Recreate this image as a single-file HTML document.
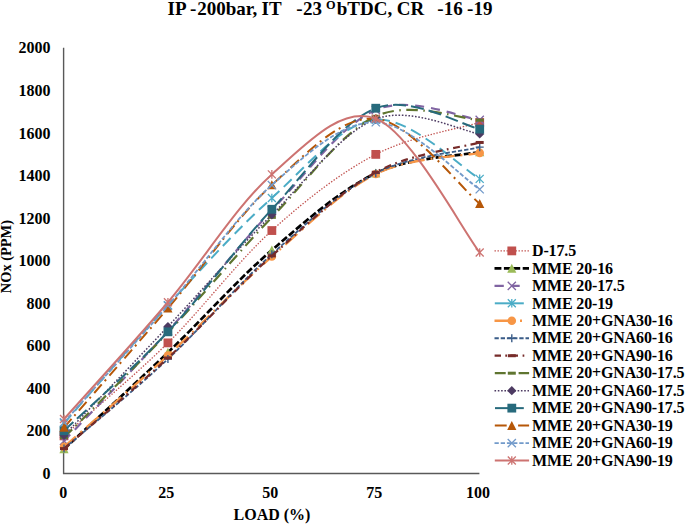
<!DOCTYPE html>
<html><head><meta charset="utf-8"><style>
html,body{margin:0;padding:0;background:#fff;}
svg{display:block;}
text{font-family:"Liberation Serif",serif;font-weight:bold;fill:#000;}
</style></head><body>
<svg width="685" height="524" viewBox="0 0 685 524">
<rect width="685" height="524" fill="#fff"/>
<g font-size="19">
<text x="167.6" y="15">IP</text>
<text x="189.9" y="15">-</text>
<text x="197.3" y="15">200bar,</text>
<text x="261.5" y="15">IT</text>
<text x="296.2" y="15">-</text>
<text x="302.9" y="15">23</text>
<text x="336.8" y="15">bTDC,</text>
<text x="396.7" y="15">CR</text>
<text x="437.15" y="15">-</text>
<text x="443.8" y="15">16</text>
<text x="467.1" y="15">-</text>
<text x="473.5" y="15">19</text>
<text x="326" y="8.8" font-size="12.3">O</text>
</g>
<path d="M63.6,47.8 V473.5 H479.4" stroke="#595959" stroke-width="1.4" fill="none"/>
<g font-size="16" text-anchor="end">
<text x="50.5" y="478.90">0</text>
<text x="50.5" y="436.35">200</text>
<text x="50.5" y="393.80">400</text>
<text x="50.5" y="351.25">600</text>
<text x="50.5" y="308.70">800</text>
<text x="50.5" y="266.15">1000</text>
<text x="50.5" y="223.60">1200</text>
<text x="50.5" y="181.05">1400</text>
<text x="50.5" y="138.50">1600</text>
<text x="50.5" y="95.95">1800</text>
<text x="50.5" y="53.40">2000</text>
</g>
<g font-size="16" text-anchor="middle">
<text x="63.20" y="498">0</text>
<text x="166.20" y="498">25</text>
<text x="270.20" y="498">50</text>
<text x="374.20" y="498">75</text>
<text x="477.90" y="498">100</text>
</g>
<text x="272" y="519.7" font-size="16" text-anchor="middle">LOAD (%)</text>
<text transform="translate(10.8,256.6) rotate(-90)" font-size="14.4" text-anchor="middle">NOx (PPM)</text>
<path d="M64.00,435.86 C81.32,420.36 133.28,377.10 167.93,342.88 C202.57,308.67 237.21,261.97 271.85,230.55 C306.49,199.14 341.13,172.40 375.77,154.39 C410.42,136.37 462.38,127.79 479.70,122.48" stroke="#C0504D" stroke-width="1.3" fill="none" stroke-dasharray="1.4 1.6"/>
<rect x="59.60" y="431.46" width="8.80" height="8.80" fill="#C0504D"/>
<rect x="163.53" y="338.48" width="8.80" height="8.80" fill="#C0504D"/>
<rect x="267.45" y="226.15" width="8.80" height="8.80" fill="#C0504D"/>
<rect x="371.38" y="149.99" width="8.80" height="8.80" fill="#C0504D"/>
<rect x="475.30" y="118.08" width="8.80" height="8.80" fill="#C0504D"/>
<path d="M64.00,449.05 C81.32,432.95 133.28,385.61 167.93,352.46 C202.57,319.30 237.21,279.98 271.85,250.13 C306.49,220.27 341.13,189.67 375.77,173.32 C410.42,156.98 462.38,155.59 479.70,152.05" stroke="#000000" stroke-width="2.7" fill="none" stroke-dasharray="6.9 2.5"/>
<path d="M64.00,444.35 L68.60,453.35 L59.40,453.35Z" fill="#9BBB59"/>
<path d="M167.93,347.76 L172.53,356.76 L163.33,356.76Z" fill="#9BBB59"/>
<path d="M271.85,245.43 L276.45,254.43 L267.25,254.43Z" fill="#9BBB59"/>
<path d="M375.77,168.62 L380.38,177.62 L371.17,177.62Z" fill="#9BBB59"/>
<path d="M479.70,147.35 L484.30,156.35 L475.10,156.35Z" fill="#9BBB59"/>
<path d="M64.00,440.96 C81.32,422.67 133.28,369.62 167.93,331.18 C202.57,292.75 237.21,247.22 271.85,210.34 C306.49,173.46 341.13,124.99 375.77,109.92 C410.42,94.85 462.38,118.26 479.70,119.92" stroke="#8064A2" stroke-width="2.2" fill="none" stroke-dasharray="9 7"/>
<path d="M59.90,436.86 L68.10,445.06 M68.10,436.86 L59.90,445.06" stroke="#8064A2" stroke-width="1.3" fill="none"/>
<path d="M163.83,327.08 L172.03,335.28 M172.03,327.08 L163.83,335.28" stroke="#8064A2" stroke-width="1.3" fill="none"/>
<path d="M267.75,206.24 L275.95,214.44 M275.95,206.24 L267.75,214.44" stroke="#8064A2" stroke-width="1.3" fill="none"/>
<path d="M371.67,105.82 L379.88,114.02 M379.88,105.82 L371.67,114.02" stroke="#8064A2" stroke-width="1.3" fill="none"/>
<path d="M475.60,115.82 L483.80,124.02 M483.80,115.82 L475.60,124.02" stroke="#8064A2" stroke-width="1.3" fill="none"/>
<path d="M64.00,423.30 C81.32,403.62 133.28,342.78 167.93,305.23 C202.57,267.68 237.21,228.92 271.85,198.00 C306.49,167.08 341.13,122.90 375.77,119.71 C410.42,116.52 462.38,169.00 479.70,178.85" stroke="#4BACC6" stroke-width="2.0" fill="none" stroke-dasharray="11 6"/>
<path d="M60.00,419.30 L68.00,427.30 M68.00,419.30 L60.00,427.30 M64.00,419.00 L64.00,427.60" stroke="#4BACC6" stroke-width="1.3" fill="none"/>
<path d="M163.93,301.23 L171.93,309.23 M171.93,301.23 L163.93,309.23 M167.93,300.93 L167.93,309.53" stroke="#4BACC6" stroke-width="1.3" fill="none"/>
<path d="M267.85,194.00 L275.85,202.00 M275.85,194.00 L267.85,202.00 M271.85,193.70 L271.85,202.30" stroke="#4BACC6" stroke-width="1.3" fill="none"/>
<path d="M371.77,115.71 L379.77,123.71 M379.77,115.71 L371.77,123.71 M375.77,115.41 L375.77,124.01" stroke="#4BACC6" stroke-width="1.3" fill="none"/>
<path d="M475.70,174.85 L483.70,182.85 M483.70,174.85 L475.70,182.85 M479.70,174.55 L479.70,183.15" stroke="#4BACC6" stroke-width="1.3" fill="none"/>
<path d="M64.00,446.92 C81.32,431.67 133.28,387.17 167.93,355.44 C202.57,323.70 237.21,286.75 271.85,256.51 C306.49,226.26 341.13,191.23 375.77,173.96 C410.42,156.69 462.38,156.41 479.70,152.90" stroke="#F79646" stroke-width="2.4" fill="none" stroke-dasharray="16 6 2 6"/>
<circle cx="64.00" cy="446.92" r="4.30" fill="#F79646"/>
<circle cx="167.93" cy="355.44" r="4.30" fill="#F79646"/>
<circle cx="271.85" cy="256.51" r="4.30" fill="#F79646"/>
<circle cx="375.77" cy="173.96" r="4.30" fill="#F79646"/>
<circle cx="479.70" cy="152.90" r="4.30" fill="#F79646"/>
<path d="M64.00,448.62 C81.32,433.69 133.28,391.46 167.93,359.05 C202.57,326.64 237.21,285.12 271.85,254.17 C306.49,223.21 341.13,191.16 375.77,173.32 C410.42,155.49 462.38,151.52 479.70,147.15" stroke="#3A5C88" stroke-width="1.8" fill="none" stroke-dasharray="4.3 1.9"/>
<path d="M60.00,448.62 L68.00,448.62 M64.00,444.62 L64.00,452.62" stroke="#3A5C88" stroke-width="1.4" fill="none"/>
<path d="M163.93,359.05 L171.93,359.05 M167.93,355.05 L167.93,363.05" stroke="#3A5C88" stroke-width="1.4" fill="none"/>
<path d="M267.85,254.17 L275.85,254.17 M271.85,250.17 L271.85,258.17" stroke="#3A5C88" stroke-width="1.4" fill="none"/>
<path d="M371.77,173.32 L379.77,173.32 M375.77,169.32 L375.77,177.32" stroke="#3A5C88" stroke-width="1.4" fill="none"/>
<path d="M475.70,147.15 L483.70,147.15 M479.70,143.15 L479.70,151.15" stroke="#3A5C88" stroke-width="1.4" fill="none"/>
<path d="M64.00,448.62 C81.32,433.52 133.28,390.11 167.93,357.99 C202.57,325.86 237.21,286.82 271.85,255.87 C306.49,224.91 341.13,191.16 375.77,172.26 C410.42,153.36 462.38,147.44 479.70,142.47" stroke="#772C2A" stroke-width="2.2" fill="none" stroke-dasharray="7 4.5 1.8 4.5"/>
<rect x="60.00" y="447.12" width="8" height="3" fill="#772C2A"/>
<rect x="163.93" y="356.49" width="8" height="3" fill="#772C2A"/>
<rect x="267.85" y="254.37" width="8" height="3" fill="#772C2A"/>
<rect x="371.77" y="170.76" width="8" height="3" fill="#772C2A"/>
<rect x="475.70" y="140.97" width="8" height="3" fill="#772C2A"/>
<path d="M64.00,437.56 C81.32,420.04 133.28,369.16 167.93,332.46 C202.57,295.76 237.21,253.39 271.85,217.36 C306.49,181.34 341.13,132.51 375.77,116.31 C410.42,100.10 462.38,119.50 479.70,120.14" stroke="#5F7530" stroke-width="2.2" fill="none" stroke-dasharray="11.5 5.5 1.5 5.5"/>
<rect x="60.00" y="436.06" width="8" height="3" fill="#5F7530"/>
<rect x="163.93" y="330.96" width="8" height="3" fill="#5F7530"/>
<rect x="267.85" y="215.86" width="8" height="3" fill="#5F7530"/>
<rect x="371.77" y="114.81" width="8" height="3" fill="#5F7530"/>
<rect x="475.70" y="118.64" width="8" height="3" fill="#5F7530"/>
<path d="M64.00,435.43 C81.32,417.28 133.28,363.27 167.93,326.50 C202.57,289.73 237.21,249.38 271.85,214.81 C306.49,180.24 341.13,132.55 375.77,119.07 C410.42,105.60 462.38,131.48 479.70,133.96" stroke="#4D3B62" stroke-width="1.5" fill="none" stroke-dasharray="1.6 1.7"/>
<path d="M64.00,430.83 L68.60,435.43 L64.00,440.03 L59.40,435.43Z" fill="#4D3B62"/>
<path d="M167.93,321.90 L172.53,326.50 L167.93,331.10 L163.33,326.50Z" fill="#4D3B62"/>
<path d="M271.85,210.21 L276.45,214.81 L271.85,219.41 L267.25,214.81Z" fill="#4D3B62"/>
<path d="M375.77,114.47 L380.38,119.07 L375.77,123.67 L371.17,119.07Z" fill="#4D3B62"/>
<path d="M479.70,129.36 L484.30,133.96 L479.70,138.56 L475.10,133.96Z" fill="#4D3B62"/>
<path d="M64.00,430.75 C81.32,414.26 133.28,368.73 167.93,331.82 C202.57,294.91 237.21,246.54 271.85,209.28 C306.49,172.01 341.13,121.59 375.77,108.22 C410.42,94.85 462.38,125.60 479.70,129.07" stroke="#276A7C" stroke-width="2.0" fill="none" stroke-dasharray="13 5"/>
<rect x="59.60" y="426.35" width="8.80" height="8.80" fill="#276A7C"/>
<rect x="163.53" y="327.42" width="8.80" height="8.80" fill="#276A7C"/>
<rect x="267.45" y="204.88" width="8.80" height="8.80" fill="#276A7C"/>
<rect x="371.38" y="103.82" width="8.80" height="8.80" fill="#276A7C"/>
<rect x="475.30" y="124.67" width="8.80" height="8.80" fill="#276A7C"/>
<path d="M64.00,427.56 C81.32,407.67 133.28,348.63 167.93,308.21 C202.57,267.78 237.21,216.62 271.85,185.02 C306.49,153.43 341.13,115.53 375.77,118.65 C410.42,121.77 462.38,189.56 479.70,203.75" stroke="#B65708" stroke-width="2.0" fill="none" stroke-dasharray="11.5 4.5 2 5"/>
<path d="M64.00,422.86 L68.60,431.86 L59.40,431.86Z" fill="#B65708"/>
<path d="M167.93,303.51 L172.53,312.51 L163.33,312.51Z" fill="#B65708"/>
<path d="M271.85,180.32 L276.45,189.32 L267.25,189.32Z" fill="#B65708"/>
<path d="M375.77,113.95 L380.38,122.95 L371.17,122.95Z" fill="#B65708"/>
<path d="M479.70,199.05 L484.30,208.05 L475.10,208.05Z" fill="#B65708"/>
<path d="M64.00,422.24 C81.32,402.81 133.28,345.19 167.93,305.65 C202.57,266.12 237.21,215.59 271.85,185.02 C306.49,154.46 341.13,121.55 375.77,122.26 C410.42,122.97 462.38,178.11 479.70,189.28" stroke="#729ACA" stroke-width="1.8" fill="none" stroke-dasharray="4.3 1.9"/>
<path d="M59.90,418.14 L68.10,426.34 M68.10,418.14 L59.90,426.34" stroke="#729ACA" stroke-width="1.3" fill="none"/>
<path d="M163.83,301.55 L172.03,309.75 M172.03,301.55 L163.83,309.75" stroke="#729ACA" stroke-width="1.3" fill="none"/>
<path d="M267.75,180.92 L275.95,189.12 M275.95,180.92 L267.75,189.12" stroke="#729ACA" stroke-width="1.3" fill="none"/>
<path d="M371.67,118.16 L379.88,126.36 M379.88,118.16 L371.67,126.36" stroke="#729ACA" stroke-width="1.3" fill="none"/>
<path d="M475.60,185.18 L483.80,193.38 M483.80,185.18 L475.60,193.38" stroke="#729ACA" stroke-width="1.3" fill="none"/>
<path d="M64.00,419.05 C81.32,399.58 133.28,343.03 167.93,302.25 C202.57,261.47 237.21,204.99 271.85,174.39 C306.49,143.79 341.13,105.63 375.77,118.65 C410.42,131.66 462.38,230.16 479.70,252.47" stroke="#CD7371" stroke-width="2.0" fill="none"/>
<path d="M60.00,415.05 L68.00,423.05 M68.00,415.05 L60.00,423.05 M64.00,414.75 L64.00,423.35" stroke="#CD7371" stroke-width="1.3" fill="none"/>
<path d="M163.93,298.25 L171.93,306.25 M171.93,298.25 L163.93,306.25 M167.93,297.95 L167.93,306.55" stroke="#CD7371" stroke-width="1.3" fill="none"/>
<path d="M267.85,170.39 L275.85,178.39 M275.85,170.39 L267.85,178.39 M271.85,170.09 L271.85,178.69" stroke="#CD7371" stroke-width="1.3" fill="none"/>
<path d="M371.77,114.65 L379.77,122.65 M379.77,114.65 L371.77,122.65 M375.77,114.35 L375.77,122.95" stroke="#CD7371" stroke-width="1.3" fill="none"/>
<path d="M475.70,248.47 L483.70,256.47 M483.70,248.47 L475.70,256.47 M479.70,248.17 L479.70,256.77" stroke="#CD7371" stroke-width="1.3" fill="none"/>
<path d="M494.5,250.90 H529" stroke="#C0504D" stroke-width="1.3" fill="none" stroke-dasharray="1.4 1.6"/>
<rect x="507.40" y="246.50" width="8.80" height="8.80" fill="#C0504D"/>
<path d="M494.5,268.37 H529" stroke="#000000" stroke-width="2.7" fill="none" stroke-dasharray="6.9 2.5"/>
<path d="M511.80,263.67 L516.40,272.67 L507.20,272.67Z" fill="#9BBB59"/>
<path d="M494.5,285.84 H503.8 M511,285.84 H519.7" stroke="#8064A2" stroke-width="2.2" fill="none"/>
<path d="M507.70,281.74 L515.90,289.94 M515.90,281.74 L507.70,289.94" stroke="#8064A2" stroke-width="1.3" fill="none"/>
<path d="M494.8,303.31 H523.8" stroke="#4BACC6" stroke-width="2.0" fill="none"/>
<path d="M507.80,299.31 L515.80,307.31 M515.80,299.31 L507.80,307.31 M511.80,299.01 L511.80,307.61" stroke="#4BACC6" stroke-width="1.3" fill="none"/>
<path d="M494.5,320.78 H509 M520,320.78 H522" stroke="#F79646" stroke-width="2.4" fill="none"/>
<circle cx="511.80" cy="320.78" r="4.30" fill="#F79646"/>
<path d="M494.5,338.25 H529" stroke="#3A5C88" stroke-width="1.8" fill="none" stroke-dasharray="4.3 1.9"/>
<path d="M507.80,338.25 L515.80,338.25 M511.80,334.25 L511.80,342.25" stroke="#3A5C88" stroke-width="1.4" fill="none"/>
<path d="M494.6,355.72 H501 M505.3,355.72 H507 M510.5,355.72 H518 M522.6,355.72 H524.3" stroke="#772C2A" stroke-width="2.2" fill="none"/>
<rect x="507.80" y="354.22" width="8" height="3" fill="#772C2A"/>
<path d="M494.8,373.19 H505.7 M518.6,373.19 H529.1" stroke="#5F7530" stroke-width="2.2" fill="none"/>
<rect x="507.80" y="371.69" width="8" height="3" fill="#5F7530"/>
<path d="M494.5,390.66 H529" stroke="#4D3B62" stroke-width="1.5" fill="none" stroke-dasharray="1.6 1.7"/>
<path d="M511.80,386.06 L516.40,390.66 L511.80,395.26 L507.20,390.66Z" fill="#4D3B62"/>
<path d="M495,408.13 H523.8" stroke="#276A7C" stroke-width="2.0" fill="none"/>
<rect x="507.40" y="403.73" width="8.80" height="8.80" fill="#276A7C"/>
<path d="M494.8,425.60 H506.7 M518.1,425.60 H529.1" stroke="#B65708" stroke-width="2.0" fill="none"/>
<path d="M511.80,420.90 L516.40,429.90 L507.20,429.90Z" fill="#B65708"/>
<path d="M494.5,443.07 H529" stroke="#729ACA" stroke-width="1.8" fill="none" stroke-dasharray="4.3 1.9"/>
<path d="M507.70,438.97 L515.90,447.17 M515.90,438.97 L507.70,447.17" stroke="#729ACA" stroke-width="1.3" fill="none"/>
<path d="M494.8,460.54 H529.1" stroke="#CD7371" stroke-width="2.0" fill="none"/>
<path d="M507.80,456.54 L515.80,464.54 M515.80,456.54 L507.80,464.54 M511.80,456.24 L511.80,464.84" stroke="#CD7371" stroke-width="1.3" fill="none"/>
<g font-size="16" letter-spacing="-0.15">
<text x="532" y="256.10">D-17.5</text>
<text x="532" y="273.57">MME 20-16</text>
<text x="532" y="291.04">MME 20-17.5</text>
<text x="532" y="308.51">MME 20-19</text>
<text x="532" y="325.98">MME 20+GNA30-16</text>
<text x="532" y="343.45">MME 20+GNA60-16</text>
<text x="532" y="360.92">MME 20+GNA90-16</text>
<text x="532" y="378.39">MME 20+GNA30-17.5</text>
<text x="532" y="395.86">MME 20+GNA60-17.5</text>
<text x="532" y="413.33">MME 20+GNA90-17.5</text>
<text x="532" y="430.80">MME 20+GNA30-19</text>
<text x="532" y="448.27">MME 20+GNA60-19</text>
<text x="532" y="465.74">MME 20+GNA90-19</text>
</g>
</svg></body></html>
